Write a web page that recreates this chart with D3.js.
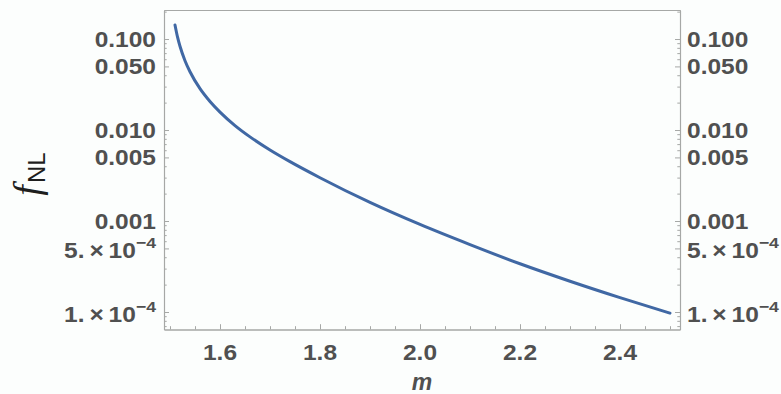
<!DOCTYPE html>
<html>
<head>
<meta charset="utf-8">
<script src="https://cdn.jsdelivr.net/npm/d3@7"></script>
<style>
  html, body { margin: 0; padding: 0; background: #fcfefd; }
  svg { display: block; }
</style>
</head>
<body>
<svg id="chart" width="781" height="394"></svg>
<script>
// ---- data ----
const mValues = [1.51, 1.515, 1.52, 1.53, 1.54, 1.56, 1.58, 1.60, 1.63, 1.66, 1.70, 1.74, 1.80, 1.90, 2.00, 2.10, 2.20, 2.30, 2.40, 2.50];
const fValues = [0.1426, 0.1054, 0.0832, 0.0578, 0.0437, 0.0285, 0.0206, 0.01574, 0.01119, 0.00841, 0.00603, 0.00449, 0.00299, 0.00160, 0.000916, 0.000550, 0.000339, 0.000218, 0.000144, 0.0000973];

const xTickValues = [1.6, 1.8, 2.0, 2.2, 2.4];
const xTickLabels = ["1.6", "1.8", "2.0", "2.2", "2.4"];
const yTickValues = [0.1, 0.05, 0.01, 0.005, 0.001, 5e-4, 1e-4];
const yTickLabels = ["0.100", "0.050", "0.010", "0.005", "0.001", "5.\u2009×\u200910^−4", "1.\u2009×\u200910^−4"];
const xLabel = "m";
const yLabelMain = "f";
const yLabelSub = "NL";

(function () {
// ---- layout ----
const svg = d3.select("#chart");
const pL = 164, pR = 680, pT = 10, pB = 329.5;
const x = d3.scaleLinear().domain([1.488, 2.52]).range([pL, pR]);
const y = d3.scaleLog().domain([6.424e-5, 0.2084]).range([pB, pT]);

const frameColor = "#a6a8a6";
const labelColor = "#505050";

svg.append("rect").attr("width", 781).attr("height", 394).attr("fill", "#fcfefd");

// minor ticks
const xMinor = d3.range(1.5, 2.5001, 0.05).map(v => +v.toFixed(2)).filter(v => !xTickValues.some(t => Math.abs(t - v) < 1e-6));
const yMinor = [];
for (let e = -5; e <= -1; e++) {
  for (let k = 1; k <= 9; k++) {
    const v = k * Math.pow(10, e);
    if (v >= y.domain()[0] && v <= y.domain()[1] && !yTickValues.some(t => Math.abs(t - v) / v < 1e-6)) yMinor.push(v);
  }
}

function styleAxis(g) {
  g.selectAll("path").attr("stroke", frameColor).attr("stroke-width", 1.1);
  g.selectAll("line").attr("stroke", frameColor).attr("stroke-width", 1);
  g.selectAll("text").remove();
}

// bottom
svg.append("g").attr("transform", `translate(0,${pB})`)
  .call(d3.axisBottom(x).tickValues(xTickValues).tickSizeInner(-5.3).tickSizeOuter(0).tickFormat(""))
  .call(styleAxis);
svg.append("g").attr("transform", `translate(0,${pB})`)
  .call(d3.axisBottom(x).tickValues(xMinor).tickSizeInner(-3.3).tickSizeOuter(0).tickFormat(""))
  .call(styleAxis);
// top (frame only)
svg.append("g").attr("transform", `translate(0,${pT})`)
  .call(d3.axisTop(x).tickValues([]).tickSizeOuter(0))
  .call(styleAxis);
// left
svg.append("g").attr("transform", `translate(${pL},0)`)
  .call(d3.axisLeft(y).tickValues(yTickValues).tickSizeInner(-5).tickSizeOuter(0).tickFormat(""))
  .call(styleAxis);
svg.append("g").attr("transform", `translate(${pL},0)`)
  .call(d3.axisLeft(y).tickValues(yMinor).tickSizeInner(-2.7).tickSizeOuter(0).tickFormat(""))
  .call(styleAxis);
// right
svg.append("g").attr("transform", `translate(${pR},0)`)
  .call(d3.axisRight(y).tickValues(yTickValues).tickSizeInner(-5).tickSizeOuter(0).tickFormat(""))
  .call(styleAxis);
svg.append("g").attr("transform", `translate(${pR},0)`)
  .call(d3.axisRight(y).tickValues(yMinor).tickSizeInner(-2.7).tickSizeOuter(0).tickFormat(""))
  .call(styleAxis);

// ---- curve ----
const pts = mValues.map((m, i) => [m, fValues[i]]);
svg.append("path")
  .datum(pts)
  .attr("fill", "none")
  .attr("stroke", "#4068a4")
  .attr("stroke-width", 3)
  .attr("stroke-linecap", "round")
  .attr("d", d3.line().x(d => x(d[0])).y(d => y(d[1])).curve(d3.curveMonotoneX));

// ---- tick labels ----
const fs = 21.5, sx = 1.14;
function addLabel(parent, label, tx, ty, anchor) {
  const t = parent.append("text")
    .attr("transform", `translate(${tx},${ty}) scale(${sx},1)`)
    .attr("text-anchor", anchor)
    .attr("font-family", "'Liberation Sans', Arial, sans-serif")
    .attr("font-weight", "bold")
    .attr("font-size", fs)
    .attr("fill", labelColor);
  const parts = label.split("^");
  t.append("tspan").text(parts[0]);
  if (parts.length > 1) {
    t.append("tspan").attr("dy", -10.5).attr("font-size", 15.5).text(parts[1]);
  }
  return t;
}

const yl = svg.append("g");
yTickValues.forEach((v, i) => {
  const lab = yTickLabels[i];
  const off = lab.includes("^") ? 10 : 7.7;
  addLabel(yl, lab, 156, y(v) + off, "end");
  addLabel(yl, lab, 687, y(v) + off, "start");
});

const xl = svg.append("g");
xTickValues.forEach((v, i) => {
  addLabel(xl, xTickLabels[i], x(v), 359.5, "middle");
});

// ---- axis titles ----
svg.append("text")
  .attr("x", (pL + pR) / 2)
  .attr("y", 390)
  .attr("text-anchor", "middle")
  .attr("font-family", "'Liberation Sans', Arial, sans-serif")
  .attr("font-weight", "bold")
  .attr("font-style", "italic")
  .attr("font-size", 23)
  .attr("fill", labelColor)
  .text(xLabel);

const yt = svg.append("text")
  .attr("transform", `translate(40,174) rotate(-90)`)
  .attr("text-anchor", "middle")
  .attr("fill", "#1e1e1e");
yt.append("tspan")
  .attr("font-family", "'Liberation Serif', 'Times New Roman', serif")
  .attr("font-style", "italic")
  .attr("font-size", 38)
  .text(yLabelMain);
yt.append("tspan")
  .attr("dy", 5)
  .attr("dx", 2)
  .attr("font-family", "'Liberation Sans', Arial, sans-serif")
  .attr("font-size", 24)
  .text(yLabelSub);
})();
</script>
</body>
</html>
